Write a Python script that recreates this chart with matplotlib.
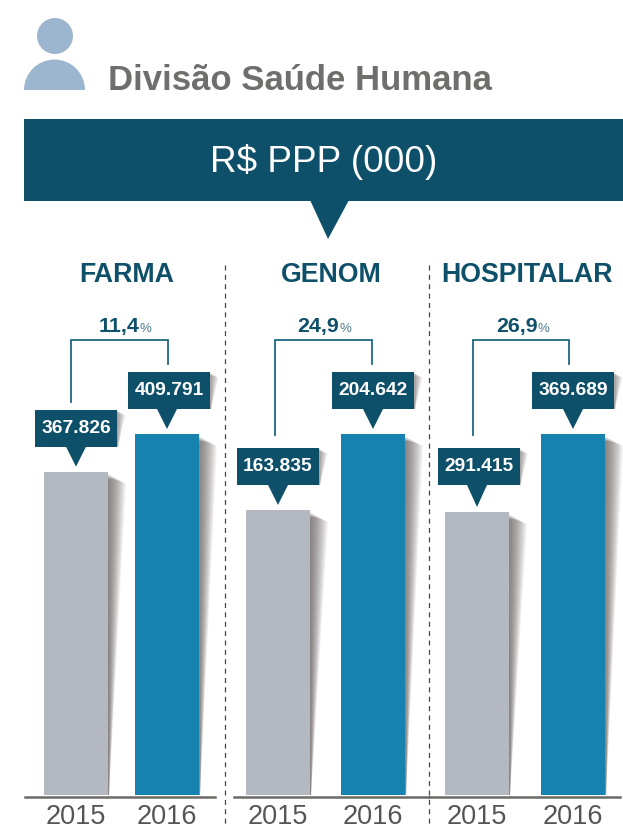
import matplotlib
matplotlib.use("Agg")
import matplotlib.pyplot as plt
from matplotlib.patches import Ellipse, Wedge, Polygon, Rectangle

plt.rcParams["font.family"] = ["Liberation Sans", "DejaVu Sans"]

W, H = 623, 828

panels = ["FARMA", "GENOM", "HOSPITALAR"]
years = ["2015", "2016"]
# bar heights as drawn in the picture, the printed labels are below
values_2015 = [367.0, 161.6, 289.8]
values_2016 = [409.791, 204.642, 369.689]
labels_2015 = ["367.826", "163.835", "291.415"]
labels_2016 = ["409.791", "204.642", "369.689"]
growth = ["11,4", "24,9", "26,9"]

DARK = "#0e5069"
BLUE = "#1682b0"
GREY = "#b4b8c1"

# layout, in pixels of the picture
ax_left = [25, 234, 429]
ax_right = [215, 429, 620]
centers = [(76, 167), (278, 373), (477, 573)]
box_shift = [(0, 2), (0, 0), (1.5, 0)]
box_gap = [(25, 25), (25, 25), (27, 25)]
title_x = [127, 331, 527]
bracket_x = [(71, 168), (275, 372), (473, 569)]
bracket_low = [402, 435, 435]
pct_x = [139, 339, 538]
base_y, top_y = 797, 434
bar_w = 64


def px_axes(zorder):
    a = fig.add_axes([0, 0, 1, 1], zorder=zorder)
    a.set_xlim(0, W)
    a.set_ylim(H - 1, -1)
    a.axis("off")
    a.patch.set_alpha(0)
    return a


def shadow(a, x, top, bottom, width, steps=18, alpha=0.06):
    # wedge shaped soft shadow right of a box
    for i in range(steps):
        w = width * (1 - i / steps)
        a.add_patch(Polygon([(x, top + i * 0.4), (x + w, top + 3 + (steps - i) * 0.4), (x + 1, bottom), (x, bottom)],
                            closed=True, fc="#5a5050", ec="none", alpha=alpha))


fig = plt.figure(figsize=(W / 100, H / 100), dpi=100, facecolor="white")
back = px_axes(0)
front = px_axes(5)

# header
back.add_patch(Ellipse((55, 36), 36, 36, fc="#9cb6cf", ec="none"))
back.add_patch(Wedge((54.5, 90), 30.5, 180, 360, fc="#9cb6cf", ec="none"))
back.text(108, 89, "Divisão Saúde Humana", fontsize=25, fontweight="bold", color="#6f6e6c", va="baseline")
back.add_patch(Rectangle((24, 119), W - 24, 82, fc=DARK, ec="none"))
back.add_patch(Polygon([(310, 200), (349, 200), (328, 239)], closed=True, fc=DARK, ec="none"))
back.text(324, 171, "R$ PPP (000)", fontsize=26.6, color="white", ha="center", va="baseline")

for x in (224.5, 428.7):
    back.plot([x, x], [265, H], color="#444444", lw=0.9, dashes=(4, 3.5))

for i, name in enumerate(panels):
    vals = [values_2015[i], values_2016[i]]
    c0, c1 = centers[i]
    step = c1 - c0
    ax = fig.add_axes([ax_left[i] / W, 1 - (base_y + 1) / H, (ax_right[i] - ax_left[i]) / W, (base_y - top_y) / H], zorder=2)
    ax.patch.set_alpha(0)
    ax.bar([0, 1], vals, width=bar_w / step, color=[GREY, BLUE])
    ax.set_xlim((ax_left[i] - c0) / step, (ax_right[i] - c0) / step)
    ax.set_ylim(-2 / 361 * max(vals), max(vals))
    ax.set_xticks([0, 1], years, fontsize=19.5, color="#555555")
    ax.tick_params(axis="x", length=0, pad=4)
    ax.set_yticks([])
    for s in ("top", "left", "right"):
        ax.spines[s].set_visible(False)
    ax.spines["bottom"].set_color("#6b6a66")
    ax.spines["bottom"].set_linewidth(1.8)

    back.text(title_x[i], 281.5, name, fontsize=19.3, fontweight="bold", color=DARK, ha="center", va="baseline")

    # growth bracket
    bl, br = bracket_x[i]
    back.plot([bl, bl, br, br], [bracket_low[i], 340, 340, 364], color="#1f6880", lw=1.3, solid_joinstyle="miter")
    back.text(pct_x[i], 331, growth[i], fontsize=15.4, fontweight="bold", color=DARK, ha="right", va="baseline")
    back.text(pct_x[i], 331, "%", fontsize=9.5, color="#4f7f93", ha="left", va="baseline")

    # value callouts and shadows, placed from the bar tops
    for j, text in enumerate((labels_2015[i], labels_2016[i])):
        px, py = ax.transData.transform((j, vals[j]))
        top = H - py - 1
        shadow(back, px + bar_w / 2, top + 2, base_y - 2, 18)
        tip = top - 5
        box_b = top - box_gap[i][j]
        box_t = box_b - 37
        xc = px + box_shift[i][j]
        shadow(front, xc + 41, box_t + 1, box_b, 8, steps=4, alpha=0.16)
        front.add_patch(Rectangle((xc - 41, box_t), 82, 37, fc=DARK, ec="none"))
        front.add_patch(Polygon([(px - 10, box_b), (px + 10, box_b), (px, tip)], closed=True, fc=DARK, ec="none"))
        front.text(xc, box_t + 17.5, text, fontsize=13.8, fontweight="bold", color="white", ha="center", va="center")

fig.savefig("out.png", dpi=100)
